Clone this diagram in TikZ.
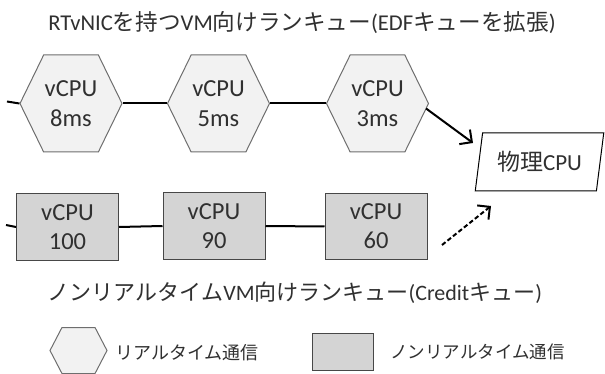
\documentclass[tikz,border=0pt]{standalone}
\usepackage{fontspec}
\setmainfont{Carlito}
\newfontfamily\jp{Noto Sans CJK JP}
\usetikzlibrary{shapes.geometric,shapes.symbols,arrows.meta}
\definecolor{txt}{HTML}{303030}
\definecolor{hexfill}{HTML}{F2F2F2}
\definecolor{hexline}{HTML}{6E6E6E}
\definecolor{rectfill}{HTML}{D4D4D4}
\definecolor{rectline}{HTML}{474747}
\begin{document}
\begin{tikzpicture}[x=1pt,y=-1pt,
  hexbox/.style={signal, signal to=east and west, signal pointer angle=128,
    draw=hexline, fill=hexfill, line width=1pt, minimum width=102pt, minimum height=97pt,
    inner sep=0pt, align=center, text=txt, font=\fontsize{24.5}{30}\selectfont},
  rectbox/.style={rectangle, draw=rectline, fill=rectfill, line width=1pt,
    minimum width=102pt, minimum height=66pt, inner sep=0pt, align=center, text=txt,
    font=\fontsize{24.5}{29}\selectfont},
  conn/.style={line width=2pt, black},
  arr/.style={line width=2pt, black, -{Straight Barb[length=9pt,width=18pt]}},
  title/.style={text=txt, inner sep=0pt},
  legtext/.style={text=txt, inner sep=0pt},
  cpubox/.style={trapezium, trapezium left angle=75.5, trapezium right angle=104.5,
    trapezium stretches=true, draw=black, fill=white, line width=1pt,
    minimum width=129pt, minimum height=58pt, inner sep=0pt, text=txt,
    font=\fontsize{23}{26}\selectfont}
]
\useasboundingbox (0,0) rectangle (605,374);

\node[title, font=\fontsize{22.6}{26}\selectfont] (t1) at (302,23) {RTvNIC{\jp を持つ}VM{\jp 向けランキュー}(EDF{\jp キューを拡張})};

\node[hexbox] (h1) at (71,103.5) {vCPU\\8ms};
\node[hexbox] (h2) at (218.5,103.5) {vCPU\\5ms};
\node[hexbox] (h3) at (377.5,103.5) {vCPU\\3ms};
\coordinate (h0) at (7,101.5);
\draw[conn] (h0) -- (h1.west);
\draw[conn] (h1.east) -- (h2.west);
\draw[conn] (h2.east) -- (h3.west);

\node[cpubox] (cpu) at (539.5,162) {{\jp 物理}CPU};

\node[rectbox] (r1) at (67.5,227) {vCPU\\100};
\node[rectbox] (r2) at (214,226) {vCPU\\90};
\node[rectbox] (r3) at (376,226.5) {vCPU\\60};
\coordinate (r0) at (6,225);
\draw[conn] (r0) -- (r1.west);
\draw[conn] (r1.east) -- (r2.west);
\draw[conn] (r2.east) -- (r3.west);

\coordinate (a1s) at ([shift={(-3,5)}]h3.east);
\coordinate (a1e) at (473,143);
\draw[arr] (a1s) -- (a1e);
\coordinate (a2s) at (442,245);
\coordinate (a2e) at (491,206);
\draw[arr, dash pattern=on 4.5pt off 2.5pt] (a2s) -- (a2e);

\node[title, font=\fontsize{22}{26}\selectfont] (t2) at (295,293) {{\jp ノンリアルタイム}VM{\jp 向けランキュー}(Credit{\jp キュー})};

\node[hexbox, minimum width=57pt, minimum height=46pt, signal pointer angle=125] (lh) at (78.5,350.5) {};
\node[legtext, anchor=west, font=\jp\fontsize{18}{20}\selectfont] (lht) at (115,353) {リアルタイム通信};
\node[rectbox, minimum width=61pt, minimum height=37pt] (lr) at (342.5,351.5) {};
\node[legtext, anchor=west, font=\jp\fontsize{17.5}{20}\selectfont] (lrt) at (390,352) {ノンリアルタイム通信};
\end{tikzpicture}
\end{document}
